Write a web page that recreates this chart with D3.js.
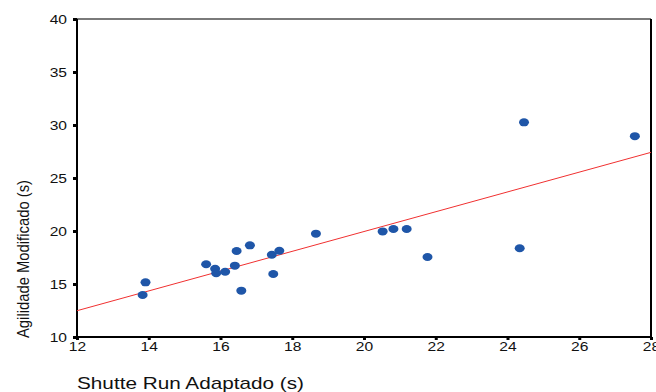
<!DOCTYPE html>
<html>
<head>
<meta charset="utf-8">
<title>Shuttle Run vs Agilidade</title>
<script src="https://cdn.jsdelivr.net/npm/d3@7"></script>
<style>
  body { margin: 0; background: #fff; }
  text { font-family: "Liberation Sans", Arial, sans-serif; fill: #111; }
</style>
</head>
<body>
<div id="chart"></div>
<script>
// data
var shuttleRun = [13.83, 13.91, 15.60, 15.85, 15.88, 16.13, 16.40, 16.45, 16.58, 16.82, 17.43,
                  17.47, 17.64, 18.66, 20.52, 20.82, 21.19, 21.77, 24.34, 24.46, 27.55];
var agilidade  = [13.96, 15.16, 16.86, 16.44, 16.01, 16.16, 16.73, 18.11, 14.37, 18.65, 17.76,
                  15.94, 18.14, 19.75, 19.96, 20.19, 20.19, 17.55, 18.37, 30.25, 28.95];
var fitLine = [[12, 12.48], [28, 27.42]];
var xTicks = [12, 14, 16, 18, 20, 22, 24, 26, 28];
var yTicks = [10, 15, 20, 25, 30, 35, 40];

var W = 656, H = 392;
var margin = {top: 19, right: 5, bottom: 55, left: 77};
var width = W - margin.left - margin.right,
    height = H - margin.top - margin.bottom;
var stretch = 1.2;   // labels in the original are a bit wide

var svg = d3.select("#chart").append("svg")
    .attr("width", W).attr("height", H);

var g = svg.append("g")
    .attr("transform", "translate(" + margin.left + "," + margin.top + ")");

var x = d3.scaleLinear().domain([12, 28]).range([0, width]);
var y = d3.scaleLinear().domain([10, 40]).range([height, 0]);

// frame: top grey, right black
g.append("line").attr("x1", 0).attr("x2", width).attr("y1", 0).attr("y2", 0)
  .attr("stroke", "#7a7a7a").attr("stroke-width", 2);
g.append("line").attr("x1", width).attr("x2", width).attr("y1", 0).attr("y2", height)
  .attr("stroke", "#000").attr("stroke-width", 2);

var xAxis = d3.axisBottom(x).tickValues(xTicks).tickSize(3).tickPadding(2).tickFormat(d3.format("d"));
var yAxis = d3.axisLeft(y).tickValues(yTicks).tickSize(4).tickPadding(6).tickFormat(d3.format("d"));

var gx = g.append("g").attr("transform", "translate(0," + height + ")").call(xAxis);
var gy = g.append("g").call(yAxis);

g.selectAll(".domain").attr("stroke", "#000").attr("stroke-width", 2);
gx.select(".domain").attr("d", "M0,0H" + width);
gy.select(".domain").attr("d", "M0,0V" + height);
g.selectAll(".tick line").attr("stroke", "#000").attr("stroke-width", 3);
g.selectAll(".tick text").style("font-size", "13px").attr("fill", "#111")
  .attr("transform", "scale(" + stretch + ",1)");
gy.selectAll(".tick text").attr("x", -10 / stretch);

// regression line
var line = d3.line().x(function(d) { return x(d[0]); }).y(function(d) { return y(d[1]); });
g.append("path").datum(fitLine).attr("d", line)
  .attr("fill", "none").attr("stroke", "#f03030").attr("stroke-width", 1);

// points
var pts = d3.zip(shuttleRun, agilidade);
g.selectAll(".pt").data(pts).enter().append("ellipse")
  .attr("class", "pt")
  .attr("cx", function(d) { return x(d[0]); })
  .attr("cy", function(d) { return y(d[1]); })
  .attr("rx", 5).attr("ry", 4)
  .attr("fill", "#1f56a8");

// axis titles
svg.append("text")
  .attr("transform", "translate(29," + 259 + ") rotate(-90)")
  .attr("text-anchor", "middle")
  .attr("textLength", 158).attr("lengthAdjust", "spacingAndGlyphs")
  .style("font-size", "17px")
  .text("Agilidade Modificado (s)");

svg.append("text")
  .attr("x", 77).attr("y", 389)
  .attr("textLength", 227).attr("lengthAdjust", "spacingAndGlyphs")
  .style("font-size", "17px")
  .text("Shutte Run Adaptado (s)");
</script>
</body>
</html>
